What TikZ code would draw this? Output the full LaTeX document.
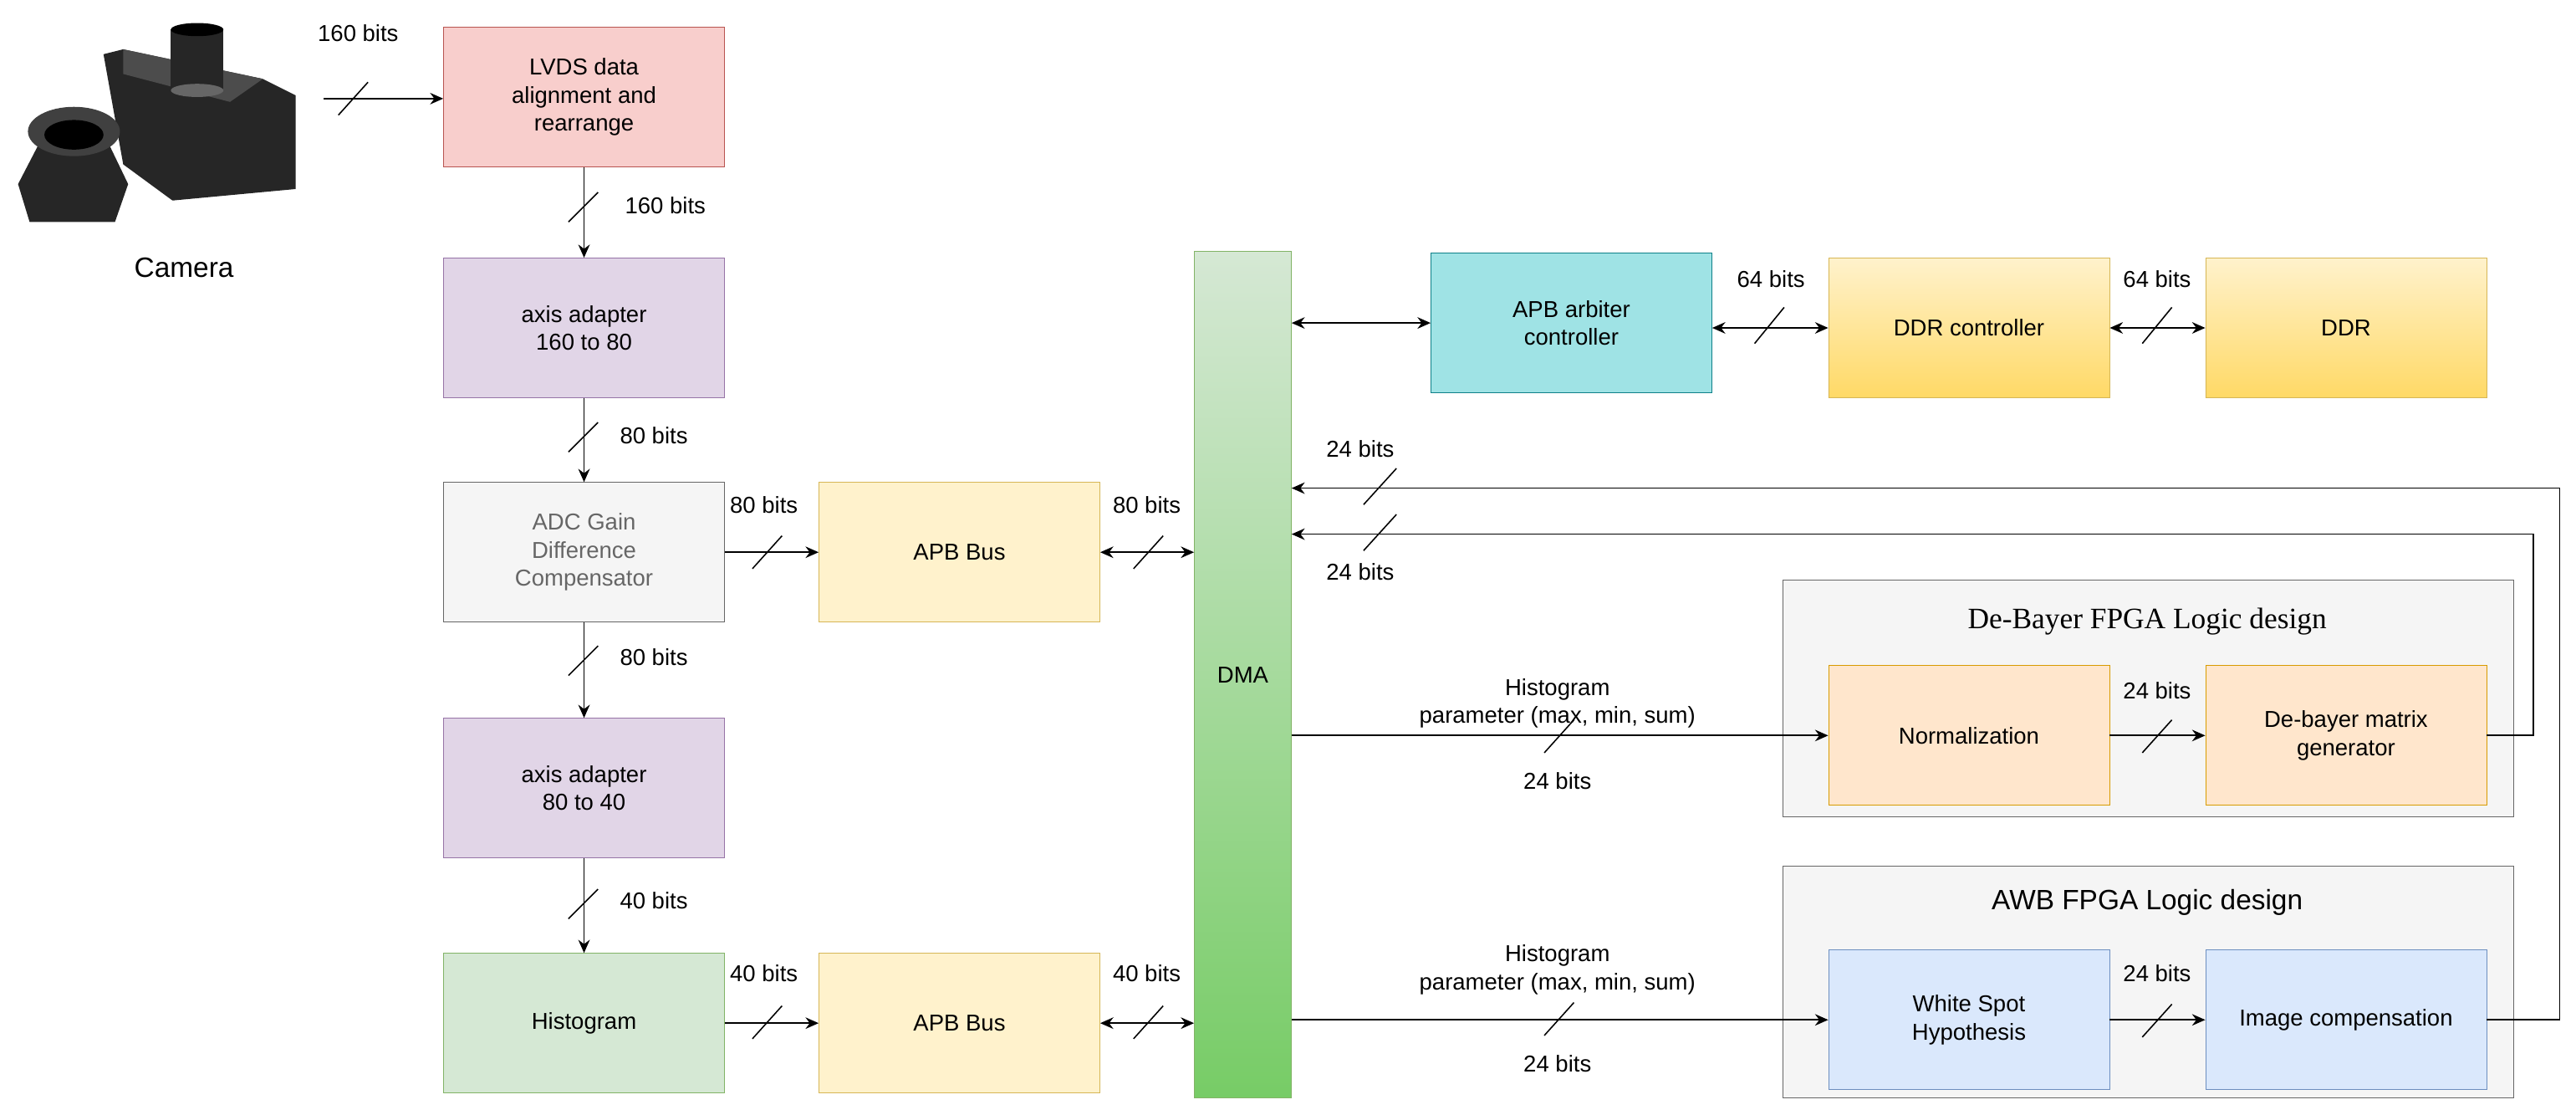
\documentclass[tikz,border=0pt]{standalone}
\usepackage{fontspec}
\setmainfont{Liberation Sans}
\newfontfamily\serifx{Liberation Serif}
\usetikzlibrary{arrows.meta}
\definecolor{gs}{HTML}{666666}
\definecolor{cRf}{HTML}{F8CECC}\definecolor{cRd}{HTML}{B85450}
\definecolor{cPf}{HTML}{E1D5E7}\definecolor{cPd}{HTML}{9673A6}
\definecolor{cGyf}{HTML}{F5F5F5}
\definecolor{cGf}{HTML}{D5E8D4}\definecolor{cGd}{HTML}{82B366}\definecolor{cGb}{HTML}{77CC66}
\definecolor{cYf}{HTML}{FFF2CC}\definecolor{cYd}{HTML}{D6B656}\definecolor{cYb}{HTML}{FFD966}
\definecolor{cOf}{HTML}{FFE6CC}\definecolor{cOd}{HTML}{D79B00}
\definecolor{cBf}{HTML}{DAE8FC}\definecolor{cBd}{HTML}{6C8EBF}
\definecolor{cCf}{HTML}{9FE3E5}\definecolor{cCd}{HTML}{0E8088}
\begin{document}
\begin{tikzpicture}[x=1pt,y=-1pt,
  box/.style={draw, minimum width=171pt, minimum height=85pt, align=center, font=\fontsize{14}{17}\selectfont, inner sep=2pt},
  bRed/.style={box, fill=cRf, draw=cRd},
  bPur/.style={box, fill=cPf, draw=cPd},
  bGry/.style={box, fill=cGyf, draw=gs, text=gs},
  bGrn/.style={box, fill=cGf, draw=cGd},
  bYel/.style={box, fill=cYf, draw=cYd},
  bOrg/.style={box, fill=cOf, draw=cOd},
  bBlu/.style={box, fill=cBf, draw=cBd},
  bCya/.style={box, fill=cCf, draw=cCd},
  bGrd/.style={box, top color=cYf, bottom color=cYb, draw=cYd},
  grp/.style={draw=gs, fill=cGyf},
  lbl/.style={font=\fontsize{14}{17}\selectfont, align=center},
  ar/.style={-{Stealth[length=8pt,width=7pt]}, line width=0.9pt},
  dar/.style={{Stealth[length=8pt,width=7pt]}-{Stealth[length=8pt,width=7pt]}, line width=0.9pt},
  sl/.style={line width=0.8pt}]
\useasboundingbox (0,0) rectangle (1568,678);
% camera
\fill[black!85] (63,33) -- (75,30) -- (160,48) -- (180,58) -- (180,115) -- (105,122) -- (75,100) -- cycle;
\fill[black!70] (75,30) -- (160,48) -- (140,62) -- (75,45) -- cycle;
\fill[black!85] (104,18) rectangle (136,55);
\fill[black] (120,18) ellipse (16pt and 4pt);
\fill[black!60] (120,55) ellipse (16pt and 4pt);
\fill[black!85] (11,112) -- (25,85) -- (65,85) -- (78,112) -- (70,135) -- (18,135) -- cycle;
\fill[black!75] (45,80) ellipse (28pt and 15pt);
\fill[black] (45,82) ellipse (18pt and 9pt);
\node[font=\fontsize{17}{20}\selectfont] (cam) at (112,163) {Camera};
\coordinate (camo) at (197,60);
% left column
\node[bRed] (lvds) at (355.5,59) {LVDS data\\alignment and\\rearrange};
\node[bPur] (ax1) at (355.5,199.5) {axis adapter\\160 to 80};
\node[bGry] (adc) at (355.5,336) {ADC Gain\\Difference\\Compensator};
\node[bPur] (ax2) at (355.5,479.5) {axis adapter\\80 to 40};
\node[bGrn] (his) at (355.5,622.5) {Histogram};
\node[bYel] (apb1) at (584,336) {APB Bus};
\node[bYel] (apb2) at (584,622.5) {APB Bus};
\node[box, minimum width=59pt, minimum height=515pt, top color=cGf, bottom color=cGb, draw=cGd] (dma) at (756.5,410.5) {DMA};
\node[bCya] (arb) at (956.5,196.5) {APB arbiter\\controller};
\node[bGrd] (ddrc) at (1198.5,199.5) {DDR controller};
\node[bGrd] (ddr) at (1428,199.5) {DDR};
% groups
\draw[grp] (1085,353) rectangle (1530,497);
\node[font=\serifx\fontsize{18}{21}\selectfont] at (1307,378) {De-Bayer FPGA Logic design};
\draw[grp] (1085,527) rectangle (1530,668);
\node[font=\fontsize{17}{20}\selectfont] at (1307,549) {AWB FPGA Logic design};
\node[bOrg] (nor) at (1198.5,447.5) {Normalization};
\node[bOrg] (deb) at (1428,447.5) {De-bayer matrix\\generator};
\node[bBlu] (wsh) at (1198.5,620.5) {White Spot\\Hypothesis};
\node[bBlu] (imc) at (1428,620.5) {Image compensation};
% connectors
\draw[ar] (camo) -- (lvds.west|-camo);
\draw[sl] (206,70) -- (224,50);
\node[lbl] at (218,20) {160 bits};
\draw[ar] (lvds) -- (ax1);
\draw[sl] (346,135) -- (364,117);
\node[lbl] at (405,125) {160 bits};
\draw[ar] (ax1) -- (adc);
\draw[sl] (346,275) -- (364,257);
\node[lbl] at (398,265) {80 bits};
\draw[ar] (adc) -- (ax2);
\draw[sl] (346,411) -- (364,393);
\node[lbl] at (398,400) {80 bits};
\draw[ar] (ax2) -- (his);
\draw[sl] (346,559) -- (364,541);
\node[lbl] at (398,548) {40 bits};
\draw[ar] (adc) -- (apb1);
\draw[sl] (458,346) -- (476,326);
\node[lbl] at (465,307) {80 bits};
\draw[dar] (apb1) -- (dma.west|-apb1);
\draw[sl] (690,346) -- (708,326);
\node[lbl] at (698,307) {80 bits};
\draw[ar] (his) -- (apb2);
\draw[sl] (458,632) -- (476,612);
\node[lbl] at (465,592) {40 bits};
\draw[dar] (apb2) -- (dma.west|-apb2);
\draw[sl] (690,632) -- (708,612);
\node[lbl] at (698,592) {40 bits};
\draw[dar] (dma.east|-arb) -- (arb);
\draw[dar] (arb.east|-ddrc) -- (ddrc);
\draw[sl] (1068,209) -- (1086,187);
\node[lbl] at (1078,170) {64 bits};
\draw[dar] (ddrc) -- (ddr);
\draw[sl] (1304,209) -- (1322,187);
\node[lbl] at (1313,170) {64 bits};
\draw[ar] (dma.east|-nor) -- (nor);
\draw[sl] (940,458) -- (958,438);
\node[lbl] at (948,428) {Histogram\\parameter (max, min, sum)};
\node[lbl] at (948,475) {24 bits};
\draw[ar] (nor) -- (deb);
\draw[sl] (1304,458) -- (1322,438);
\node[lbl] at (1313,420) {24 bits};
\draw[ar] (dma.east|-wsh) -- (wsh);
\draw[sl] (940,630) -- (958,610);
\node[lbl] at (948,590) {Histogram\\parameter (max, min, sum)};
\node[lbl] at (948,647) {24 bits};
\draw[ar] (wsh) -- (imc);
\draw[sl] (1304,631) -- (1322,611);
\node[lbl] at (1313,592) {24 bits};
\coordinate (r1) at (1542,325);
\coordinate (r2) at (1558,297);
\draw[ar] (deb.east) -| (r1) -- (dma.east|-r1);
\draw[sl] (830,335) -- (850,313);
\node[lbl] at (828,348) {24 bits};
\draw[ar] (imc.east) -| (r2) -- (dma.east|-r2);
\draw[sl] (830,307) -- (850,285);
\node[lbl] at (828,273) {24 bits};
\end{tikzpicture}
\end{document}
